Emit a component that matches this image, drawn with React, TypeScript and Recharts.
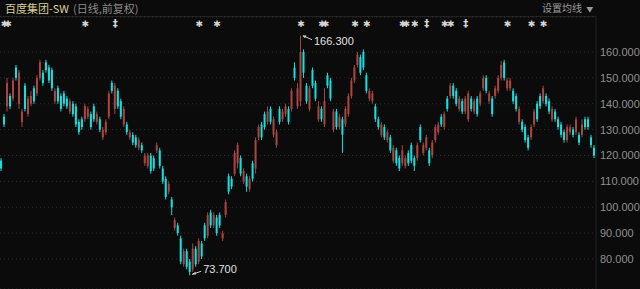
import { ComposedChart, Bar, XAxis, YAxis, CartesianGrid, ReferenceDot } from "recharts";

// daily candles (red = up, cyan = down)
const opens = [
  118, 135, 139, 143, 142, 154, 140, 133, 147, 136, 140, 146, 144, 150, 152, 156, 154, 153, 141, 146,
  143, 144, 142, 137, 140, 139, 133, 134, 134, 135, 136, 139, 133, 134, 127, 129, 135, 148, 138, 145,
  141, 132, 132, 127, 128, 127, 123, 124, 117, 116, 120, 119, 122, 122, 115, 111, 106, 103, 92, 93,
  88, 78, 83, 79, 76, 84, 79, 86, 93, 89, 98, 93, 96, 97, 88, 97, 112, 111, 113, 117,
  119, 110, 112, 107, 117, 115, 127, 132, 136, 133, 138, 128, 124, 138, 134, 136, 138, 138, 154, 139,
  141, 160, 147, 138, 153, 148, 134, 138, 132, 151, 149, 130, 137, 131, 134, 132, 136, 143, 149, 155,
  158, 160, 151, 142, 141, 139, 134, 128, 131, 126, 127, 118, 122, 119, 117, 116, 121, 124, 119, 119,
  131, 121, 123, 122, 120, 126, 129, 135, 131, 142, 143, 147, 145, 138, 141, 137, 134, 142, 137, 142,
  140, 146, 150, 141, 142, 143, 145, 150, 156, 146, 146, 145, 143, 133, 133, 131, 127, 127, 132, 140,
  143, 141, 143, 141, 134, 137, 134, 132, 129, 126, 129, 130, 129, 128, 128, 134, 134, 127, 123,
];
const closes = [
  115, 132, 148, 139, 149, 150, 152, 137, 138, 142, 143, 141, 150, 156, 148, 153, 149, 146, 145, 141,
  138, 140, 139, 141, 136, 132, 129, 131, 139, 138, 131, 134, 136, 130, 130, 133, 144, 145, 147, 139,
  135, 138, 129, 129, 125, 124, 126, 122, 120, 120, 114, 115, 124, 116, 110, 104, 109, 100, 95, 90,
  79, 83, 77, 75, 84, 78, 87, 81, 88, 97, 93, 97, 90, 93, 90, 102, 106, 108, 121, 124,
  113, 114, 108, 111, 111, 126, 131, 127, 131, 137, 133, 134, 129, 133, 137, 139, 133, 145, 150, 146,
  160, 152, 141, 146, 147, 142, 139, 134, 141, 147, 142, 137, 131, 135, 128, 138, 143, 149, 154, 159,
  152, 154, 145, 145, 144, 134, 131, 132, 127, 129, 122, 123, 117, 115, 122, 119, 117, 118, 116, 124,
  126, 124, 127, 117, 125, 131, 132, 132, 136, 138, 147, 143, 140, 142, 137, 142, 144, 138, 141, 136,
  144, 150, 145, 144, 136, 146, 150, 155, 150, 149, 149, 141, 138, 138, 130, 126, 123, 131, 137, 134,
  139, 146, 140, 137, 138, 134, 131, 128, 126, 131, 131, 128, 134, 125, 132, 131, 131, 124, 120,
];
const highs = [
  119, 136, 150, 144, 150, 155, 153, 138, 148, 143, 145, 147, 151, 157, 153, 157, 155, 154, 146, 147,
  144, 145, 143, 142, 141, 140, 134, 135, 140, 139, 137, 140, 137, 135, 131, 134, 145, 149, 148, 146,
  142, 139, 133, 130, 129, 128, 127, 125, 121, 121, 121, 120, 125, 123, 116, 112, 110, 104, 96, 94,
  89, 84, 84, 80, 86, 85, 88, 87, 94, 98, 99, 98, 97, 98, 91, 103, 113, 112, 122, 125,
  120, 115, 113, 112, 118, 127, 132, 133, 137, 139, 139, 135, 130, 139, 138, 140, 139, 146, 156, 148,
  166.3, 161, 148, 147, 154, 149, 141, 139, 146, 152, 150, 138, 138, 136, 135, 139, 144, 150, 155, 160,
  159, 161, 152, 146, 145, 140, 135, 133, 132, 130, 128, 124, 123, 120, 124, 120, 122, 125, 120, 125,
  132, 125, 128, 123, 126, 132, 133, 136, 137, 143, 148, 148, 146, 143, 142, 143, 145, 143, 142, 143,
  145, 151, 151, 145, 143, 147, 151, 156.5, 157, 150, 150, 146, 144, 139, 134, 132, 128, 132, 138, 141,
  144, 147, 144, 142, 139, 138, 135, 133, 130, 132, 132, 131, 135, 129, 134, 135, 135, 128, 124,
];
const lows = [
  114, 131, 137, 138, 141, 149, 138, 131, 137, 135, 139, 140, 143, 149, 147, 152, 148, 145, 140, 140,
  137, 139, 138, 136, 135, 131, 128, 130, 133, 134, 130, 133, 132, 129, 126, 128, 134, 144, 136, 138,
  134, 131, 128, 126, 124, 123, 122, 121, 116, 115, 113, 114, 121, 115, 109, 103, 105, 97, 91, 89,
  78, 77, 76, 73.7, 75, 77, 78, 80, 87, 88, 92, 92, 89, 92, 87, 96, 105, 107, 112, 115,
  112, 109, 106, 106, 110, 113, 126, 126, 130, 132, 132, 127, 123, 132, 133, 135, 132, 137, 149, 138,
  139, 150, 140, 137, 146, 141, 133, 133, 131, 146, 141, 129, 130, 130, 121, 131, 135, 142, 148, 154,
  151, 153, 144, 141, 140, 133, 130, 127, 126, 125, 121, 117, 116, 114, 116, 115, 116, 117, 114, 118,
  125, 120, 122, 116, 119, 125, 128, 131, 130, 137, 142, 142, 139, 137, 136, 136, 133, 137, 136, 135,
  139, 145, 144, 140, 135, 142, 144, 149, 149, 145, 145, 140, 137, 132, 129, 125, 122, 126, 131, 133,
  138, 140, 139, 136, 133, 133, 130, 127, 125, 125, 128, 127, 128, 124, 127, 130, 130, 123, 119,
];

// event markers along the top row (a double marker sits on its first candle)
const markerIdx = [1, 28, 38, 66, 72, 100, 107, 118, 122, 134, 138, 142, 148, 150, 155, 169, 177, 181];
const markerSym = ["✱✱", "✱", "‡", "✱", "✱", "✱", "✱✱", "✱", "✱", "✱✱", "✱", "‡", "✱", "✱", "‡", "✱", "✱", "✱"];

const yTicks = [80, 90, 100, 110, 120, 130, 140, 150, 160];
const yDomain = [68.41, 173.53];

const maxIdx = 100;
const maxVal = 166.3;
const minIdx = 63;
const minVal = 73.7;

const RED = "#a8463f";
const CYAN = "#14e0e0";
const BG = "#0b0b0b";
const FONT = "'Liberation Sans', Arial, sans-serif";

const data = opens.map((o, i) => ({ i, o, c: closes[i], h: highs[i], l: lows[i] }));

function Candle(props: any) {
  const { x, y, width, height, payload } = props;
  const { o, c, h, l } = payload;
  const color = c >= o ? RED : CYAN;
  const top = Math.min(y, y + height);
  const span = Math.abs(height);
  const ppu = span / (h - l || 1);
  const yOf = (v: number) => top + (h - v) * ppu;
  const cx = x + width / 2;
  const bt = yOf(Math.max(o, c));
  const bb = yOf(Math.min(o, c));
  return (
    <g>
      <line x1={cx} x2={cx} y1={top} y2={top + span} stroke={color} strokeWidth={1} />
      <rect x={x} y={bt} width={width} height={Math.max(1, bb - bt)} fill={color} />
    </g>
  );
}

function Marker({ cx, cy, sym }: any) {
  const dbl = sym.length > 1;
  const dagger = sym === "‡";
  return (
    <text
      x={dbl ? cx - 3.75 : cx}
      y={cy + (dagger ? 4 : 3.5)}
      textAnchor={dbl ? "start" : "middle"}
      fill="#d6d6d6"
      fontSize={dagger ? 10 : 9}
      fontWeight="bold"
      letterSpacing={dbl ? -4 : 0}
      fontFamily="'DejaVu Sans', sans-serif"
    >
      {sym}
    </text>
  );
}

function MaxLabel({ cx, cy }: any) {
  return (
    <g>
      <line x1={cx + 2} y1={cy} x2={cx + 11} y2={cy + 4} stroke="#cfcfcf" strokeWidth={1} />
      <path d={`M${cx + 1.5},${cy} l4,-0.5 l-1.5,3 z`} fill="#cfcfcf" />
      <text x={cx + 13} y={cy + 9} fill="#e0e0e0" fontSize={11} fontFamily={FONT}>
        {maxVal.toFixed(3)}
      </text>
    </g>
  );
}

function MinLabel({ cx, cy }: any) {
  return (
    <g>
      <line x1={cx + 2} y1={cy - 1} x2={cx + 11} y2={cy - 4} stroke="#cfcfcf" strokeWidth={1} />
      <path d={`M${cx + 1.5},${cy - 1} l4,-2.5 l0,3 z`} fill="#cfcfcf" />
      <text x={cx + 13} y={cy - 2} fill="#e0e0e0" fontSize={11} fontFamily={FONT}>
        {minVal.toFixed(3)}
      </text>
    </g>
  );
}

export default function App() {
  return (
    <div style={{ position: "fixed", left: 0, top: 0, width: 640, height: 289, background: BG, overflow: "hidden" }}>
      <div
        style={{
          position: "absolute",
          left: 5,
          top: 1,
          fontSize: 11,
          fontFamily: "'Noto Sans CJK SC', sans-serif",
          lineHeight: "14px",
          whiteSpace: "nowrap",
        }}
      >
        <span style={{ color: "#d8cf9c" }}>百度集团-SW</span>
        <span style={{ color: "#8a8a8a", marginLeft: 4 }}>(日线,前复权)</span>
      </div>
      <div
        style={{
          position: "absolute",
          left: 542,
          top: 1,
          fontSize: 10,
          fontFamily: "'Noto Sans CJK SC', sans-serif",
          lineHeight: "14px",
          color: "#9a9a9a",
          whiteSpace: "nowrap",
        }}
      >
        设置均线 <span style={{ fontSize: 7, marginLeft: 2 }}>▼</span>
      </div>
      <div style={{ position: "absolute", left: 0, top: 16, width: 596, height: 1, background: "#222" }} />
      <ComposedChart
        width={640}
        height={289}
        data={data}
        margin={{ top: 17, right: 0, bottom: 0, left: 0 }}
        barSize={2}
        style={{ position: "absolute", left: 0, top: 0 }}
      >
        <CartesianGrid horizontal vertical={false} stroke="#2e2e2e" strokeDasharray="1 3" />
        <XAxis dataKey="i" type="category" hide />
        <YAxis
          orientation="right"
          width={44}
          domain={yDomain}
          ticks={yTicks}
          allowDataOverflow
          tickSize={2}
          tickLine={false}
          axisLine={{ stroke: "#222" }}
          tick={{ fill: "#8f8f8f", fontSize: 11, fontFamily: FONT }}
          tickFormatter={(v: number) => v.toFixed(3)}
        />
        <Bar dataKey={(d: any) => [d.l, d.h]} shape={<Candle />} isAnimationActive={false} />
        {markerIdx.map((m, k) => (
          <ReferenceDot key={k} x={m} y={171.2} r={0} shape={(p: any) => <Marker {...p} sym={markerSym[k]} />} />
        ))}
        <ReferenceDot x={maxIdx} y={maxVal} r={0} shape={(p: any) => <MaxLabel {...p} />} />
        <ReferenceDot x={minIdx} y={minVal} r={0} shape={(p: any) => <MinLabel {...p} />} />
      </ComposedChart>
    </div>
  );
}
